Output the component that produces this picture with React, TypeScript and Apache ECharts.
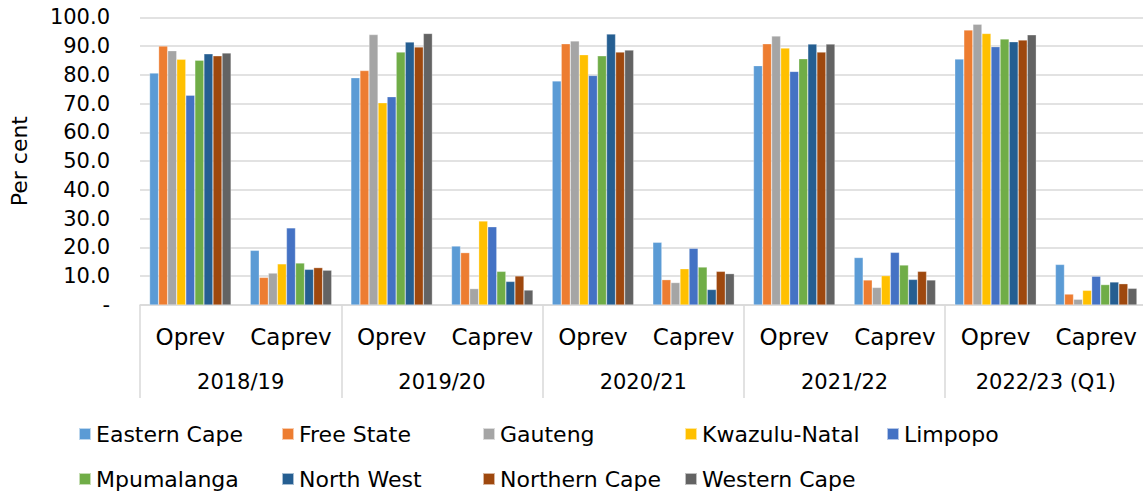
import React, { useEffect, useRef } from "react";
import * as echarts from "echarts";

const years = ["2018/19", "2019/20", "2020/21", "2021/22", "2022/23 (Q1)"];
const revenueTypes = ["Oprev", "Caprev"];
const yTicks = ["-", "10.0", "20.0", "30.0", "40.0", "50.0", "60.0", "70.0", "80.0", "90.0", "100.0"];

// values ordered: 2018/19 Oprev, Caprev, 2019/20 Oprev, Caprev, ...
const easternCape = [80.6, 19.0, 79.0, 20.5, 77.9, 21.8, 83.2, 16.5, 85.5, 14.1];
const freeState = [90.0, 9.6, 81.5, 18.2, 90.8, 8.8, 90.8, 8.7, 95.6, 3.8];
const gauteng = [88.4, 11.1, 94.0, 5.7, 91.8, 7.8, 93.5, 6.1, 97.6, 2.0];
const kwazuluNatal = [85.4, 14.3, 70.3, 29.2, 87.0, 12.6, 89.3, 10.2, 94.4, 5.1];
const limpopo = [72.9, 26.8, 72.4, 27.2, 79.8, 19.7, 81.2, 18.3, 89.8, 10.0];
const mpumalanga = [85.1, 14.6, 87.9, 11.7, 86.6, 13.2, 85.6, 13.9, 92.5, 7.1];
const northWest = [87.3, 12.4, 91.4, 8.2, 94.2, 5.4, 90.7, 8.9, 91.5, 8.0];
const northernCape = [86.6, 13.0, 89.7, 10.1, 87.9, 11.7, 87.9, 11.7, 92.1, 7.4];
const westernCape = [87.6, 12.1, 94.4, 5.2, 88.6, 10.9, 90.7, 8.7, 93.9, 5.8];

const seriesNames = [
  "Eastern Cape",
  "Free State",
  "Gauteng",
  "Kwazulu-Natal",
  "Limpopo",
  "Mpumalanga",
  "North West",
  "Northern Cape",
  "Western Cape",
];
const seriesValues = [
  easternCape,
  freeState,
  gauteng,
  kwazuluNatal,
  limpopo,
  mpumalanga,
  northWest,
  northernCape,
  westernCape,
];
const colors = [
  "#5B9BD5",
  "#ED7D31",
  "#A5A5A5",
  "#FFC000",
  "#4472C4",
  "#70AD47",
  "#255E91",
  "#9E480E",
  "#636363",
];

const FONT = "DejaVu Sans";

export default function App() {
  const ref = useRef<HTMLDivElement>(null);

  useEffect(() => {
    if (!ref.current) return;
    const chart = echarts.init(ref.current, undefined, { renderer: "svg" });

    const legendCols = [78, 281, 482, 684, 886];
    const legendRows = [422, 467];
    const legends = seriesNames.map((name, i) => ({
      show: true,
      data: [name],
      left: legendCols[i % 5],
      top: legendRows[Math.floor(i / 5)],
      padding: 0,
      icon: "rect",
      itemWidth: 12,
      itemHeight: 12,
      selectedMode: false,
      textStyle: { fontFamily: FONT, fontSize: 22, color: "#000", lineHeight: 24, padding: [0, 0, 0, 0] },
    }));

    const option: any = {
      animation: false,
      color: colors,
      textStyle: { fontFamily: FONT },
      legend: legends,
      grid: { left: 135, right: 0.5, top: 17.3, bottom: 188, containLabel: false },
      xAxis: [
        {
          type: "category",
          data: years.flatMap(() => revenueTypes),
          axisLine: { show: true, lineStyle: { color: "#D9D9D9", width: 1.5 } },
          axisTick: { show: false },
          axisLabel: { interval: 0, margin: 20, fontFamily: FONT, fontSize: 23, color: "#000" },
        },
        {
          type: "category",
          data: years,
          position: "bottom",
          axisLine: { show: false },
          axisTick: { show: true, length: 93, interval: 0, lineStyle: { color: "#D9D9D9", width: 1.5 } },
          axisLabel: { interval: 0, margin: 66, fontFamily: FONT, fontSize: 21, color: "#000" },
        },
      ],
      yAxis: {
        type: "value",
        min: 0,
        max: 100,
        interval: 10,
        name: "Per cent",
        nameLocation: "middle",
        nameRotate: 90,
        nameGap: 110,
        nameTextStyle: { fontFamily: FONT, fontSize: 22, color: "#000" },
        axisLine: { show: false },
        axisTick: { show: false },
        splitLine: { lineStyle: { color: "#D9D9D9", width: 1.5 } },
        axisLabel: {
          margin: 30,
          fontFamily: FONT,
          fontSize: 21,
          color: "#000",
          formatter: (v: number) => yTicks[Math.round(v / 10)],
        },
      },
      series: seriesNames.map((name, i) => ({
        name,
        type: "bar",
        xAxisIndex: 0,
        data: seriesValues[i],
        barGap: "0%",
        barCategoryGap: "19%",
        itemStyle: { color: colors[i], borderColor: "rgba(255,255,255,0.6)", borderWidth: 0.5 },
      })),
    };

    chart.setOption(option);
    return () => chart.dispose();
  }, []);

  return (
    <div style={{ position: "absolute", left: 0, top: 0, width: 1143, height: 493, overflow: "hidden", background: "#fff" }}>
      <div ref={ref} style={{ width: 1147, height: 493 }} />
    </div>
  );
}
